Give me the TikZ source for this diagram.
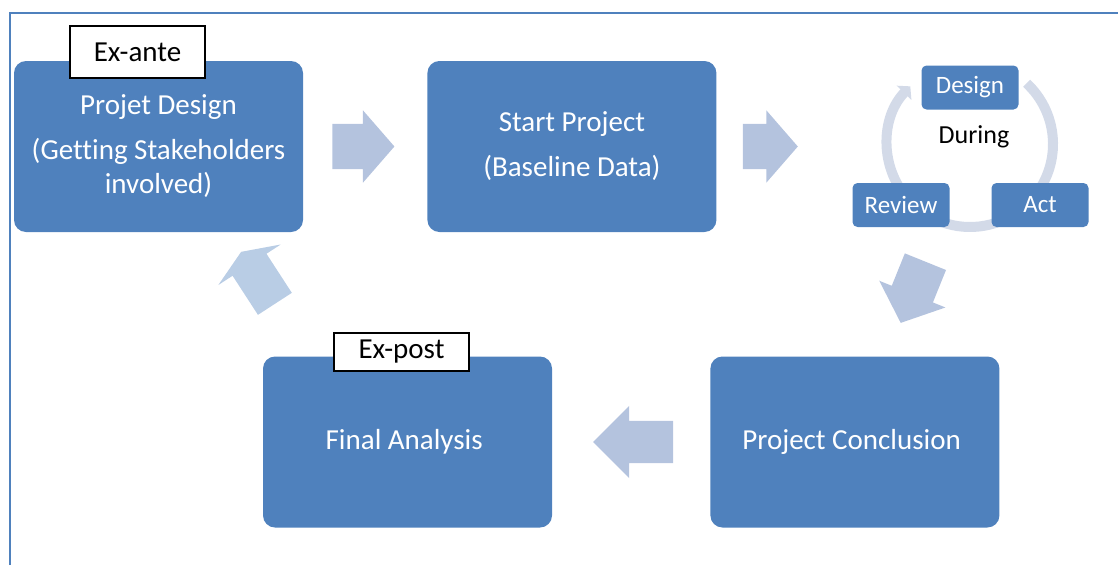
\documentclass[tikz,border=0pt]{standalone}
\usepackage{fontspec}
\setmainfont{Carlito}[Ligatures=CommonOff]
\usetikzlibrary{shapes.arrows,positioning,calc,arrows.meta,backgrounds}
\definecolor{boxblue}{HTML}{4F81BD}
\definecolor{arrowblue}{HTML}{B4C3DE}
\definecolor{arrowsky}{HTML}{B9CDE5}
\definecolor{ringgray}{HTML}{D3DAE8}

\begin{document}
\begin{tikzpicture}[x=1pt,y=-1pt,
    bigbox/.style={fill=boxblue, text=white, rounded corners=12pt,
        minimum width=289pt, minimum height=171pt, align=center,
        font=\fontsize{29}{34}\selectfont},
    smallbox/.style={fill=boxblue, text=white, rounded corners=5pt,
        minimum width=97pt, minimum height=44pt,
        font=\fontsize{25}{30}\selectfont},
    tagbox/.style={draw=black, fill=white, line width=1.5pt,
        minimum width=135pt, font=\fontsize{29}{34}\selectfont},
    blockarrow/.style={single arrow, fill=arrowblue, anchor=tail,
        inner xsep=0pt, inner ysep=22.5pt, single arrow head extend=13.5pt,
        single arrow tip angle=98},
    ringarc/.style={ringgray, line width=10pt}
]

\useasboundingbox (0,0) rectangle (1118,565);

% frame
\draw[boxblue, line width=2pt] (10,565) -- (10,13) -- (1118,13);

\node[bigbox] (block1) at (158.5,146.5)
    { Projet Design\\[11pt](Getting Stakeholders\\involved) };

\node[bigbox,
    right=124pt of block1
] (block2) { Start Project\\[11pt](Baseline Data) };

\node[bigbox] (block4) at (407.5,442) { Final Analysis };

\node[bigbox,
    right=158pt of block4
] (block3) { Project Conclusion };

\node[tagbox, minimum height=52pt] (tag1) at (137.5,52) { Ex-ante };
\node[tagbox, minimum height=38pt] (tag2) at (401.5,352) { Ex-post };

% during cycle
\coordinate (ring) at (970,144);
\node[smallbox] (sub1) at (970,87.5) { Design };
\node[smallbox] (sub2) at (1040,205) { Act };
\node[smallbox] (sub3) at (901,205) { Review };
\node[font=\fontsize{26}{30}\selectfont] (during) at (974,137) { During };

\begin{scope}[on background layer]
\draw[ringarc] ([shift={(47:83pt)}]ring) arc[start angle=47, end angle=-35, radius=83pt];
\draw[ringarc] ([shift={(-60:83pt)}]ring) arc[start angle=-60, end angle=-122, radius=83pt];
\draw[ringarc, -{Triangle[width=20pt,length=9pt]}] ([shift={(215:83pt)}]ring)
    arc[start angle=215, end angle=136, radius=83pt];
\end{scope}

% block arrows
\node[blockarrow, minimum height=62pt] (arrow1)
    at ($(block1.east)+(29,0)$) {};
\node[blockarrow, minimum height=55pt] (arrow2)
    at ($(block2.east)+(26,0)$) {};
\node[blockarrow, minimum height=66pt, inner ysep=22pt, rotate=248] (arrow3)
    at (925.5,261.5) {};
\node[blockarrow, minimum height=80pt, inner ysep=21pt,
    single arrow head extend=15pt, single arrow tip angle=90,
    rotate=180] (arrow4) at ($(block3.west)+(-37,0)$) {};
\node[blockarrow, fill=arrowsky, minimum height=62pt, inner ysep=20pt,
    single arrow head extend=17pt, single arrow tip angle=135,
    rotate=123] (arrow5) at (275,304) {};

\end{tikzpicture}
\end{document}
